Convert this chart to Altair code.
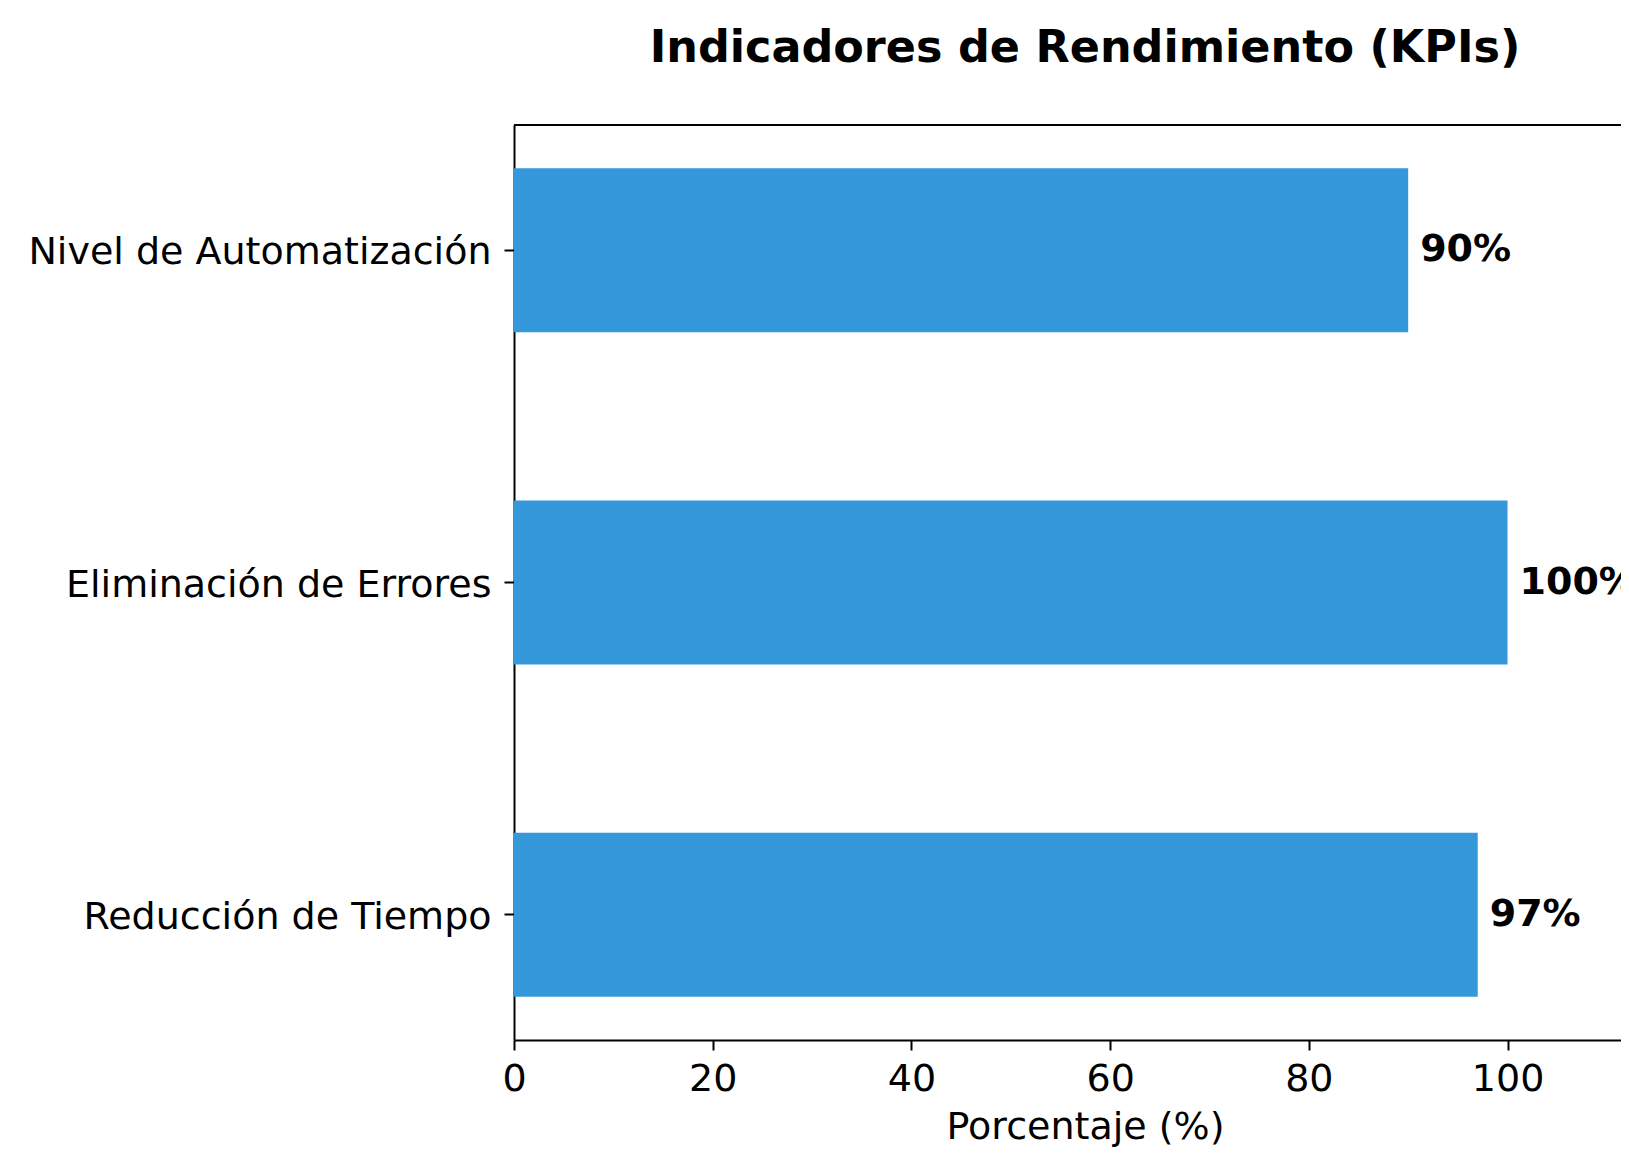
import altair as alt
import pandas as pd

categories = ["Nivel de Automatización", "Eliminación de Errores", "Reducción de Tiempo"]
values = [90, 100, 97]
value_labels = ["90%", "100%", "97%"]
x_ticks = [0, 20, 40, 60, 80, 100]

df = pd.DataFrame({"kpi": categories, "valor": values, "etiqueta": value_labels})

W = 1107
H = 915
XMAX = 111.42
FONT = "DejaVu Sans"
FS = 38

x_enc = alt.X(
    "valor:Q",
    scale=alt.Scale(domain=[0, XMAX], nice=False, zero=True),
    axis=alt.Axis(
        values=x_ticks,
        title="Porcentaje (%)",
        grid=False,
        labelFontSize=FS,
        labelFont=FONT,
        labelColor="black",
        labelPadding=10,
        labelFlush=False,
        tickSize=10,
        tickWidth=2,
        tickColor="black",
        domainColor="black",
        domainWidth=2,
        titleFont=FONT,
        titleFontSize=FS,
        titleFontWeight="normal",
        titleColor="black",
        titleX=571,
        titleY=98,
        titleAlign="center",
        titleBaseline="alphabetic",
    ),
)
y_enc = alt.Y(
    "kpi:N",
    sort=categories,
    scale=alt.Scale(paddingInner=0.5066, paddingOuter=0.1298),
    axis=alt.Axis(
        title=None,
        grid=False,
        labelFontSize=FS,
        labelFont=FONT,
        labelColor="black",
        labelPadding=13,
        labelOffset=3,
        labelLimit=2000,
        tickSize=10,
        tickWidth=2,
        tickColor="black",
        domainColor="black",
        domainWidth=2,
    ),
)

bars = alt.Chart(df).mark_bar(color="#3498db").encode(x=x_enc, y=y_enc)

text = alt.Chart(df).mark_text(
    align="left", baseline="middle", dx=12, fontWeight="bold",
    fontSize=FS, font=FONT, color="black"
).encode(
    x=alt.X("valor:Q"),
    y=alt.Y("kpi:N", sort=categories),
    text="etiqueta:N",
)

top_line = alt.Chart(pd.DataFrame({"a": [0]})).mark_rule(
    color="black", strokeWidth=2
).encode(x=alt.value(0), x2=alt.value(W), y=alt.value(0))

chart = alt.layer(bars, text, top_line).properties(
    width=W,
    height=H,
    title=alt.TitleParams(
        "Indicadores de Rendimiento (KPIs)",
        fontSize=44.5,
        fontWeight="bold",
        font=FONT,
        color="black",
        anchor="middle",
        dx=17.5,
        baseline="alphabetic",
        offset=18,
    ),
    autosize=alt.AutoSizeParams(type="none"),
    padding={"left": 506, "top": 117, "right": 0, "bottom": 107},
).configure_view(stroke=None)

chart.save("out.html", embed_options={"renderer": "svg", "actions": False})
